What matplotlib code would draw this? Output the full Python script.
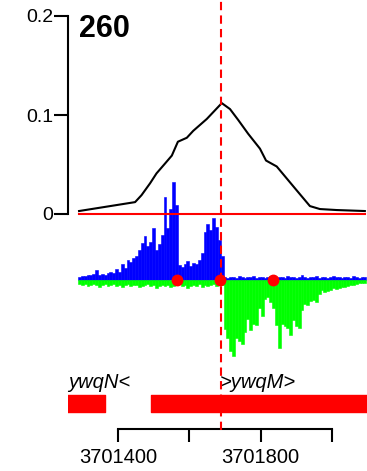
import matplotlib
matplotlib.use("Agg")
import matplotlib.pyplot as plt
import numpy as np

plt.rcParams["font.family"] = ["Liberation Sans", "DejaVu Sans"]

# genomic window
x_lo, x_hi = 3701260, 3702098
summit = 3701690

# smoothed density (top panel)
dens_pos = [3701291, 3701448, 3701466, 3701490, 3701508, 3701532, 3701551,
            3701568, 3701593, 3701611, 3701649, 3701691, 3701714, 3701737,
            3701765, 3701798, 3701815, 3701845, 3701896, 3701938, 3701966,
            3702013, 3702092]
dens_val = [0.003, 0.012, 0.019, 0.031, 0.041, 0.051, 0.059, 0.073, 0.077,
            0.084, 0.096, 0.112, 0.106, 0.095, 0.081, 0.066, 0.054, 0.048,
            0.026, 0.008, 0.005, 0.004, 0.003]

# per-position read counts, forward (blue, up) and reverse (green, down)
sig_start, sig_step = 3701292, 8
fwd = [3, 4, 4, 5, 5, 6, 10, 5, 6, 5, 7, 8, 7, 11, 8, 16, 12, 20, 18, 22,
       24, 30, 37, 44, 34, 38, 52, 30, 36, 45, 83, 52, 71, 98, 75, 15, 13, 16, 19, 14,
       17, 16, 20, 27, 48, 56, 50, 62, 53, 40, 24,
       3, 2, 3, 3, 2, 4, 3, 2, 3, 3, 4, 2, 3, 3, 2, 3, 4, 3, 2, 3,
       3, 2, 4, 3, 3, 2, 3, 5, 3, 2, 3, 3, 4, 2, 3, 3, 2, 3, 4, 3,
       3, 2, 3, 3, 2, 4, 3, 2, 3, 3]
rev = [4, 5, 4, 6, 5, 4, 5, 7, 5, 4, 6, 5, 4, 6, 5, 7, 5, 4, 6, 5,
       5, 7, 6, 5, 4, 6, 5, 8, 6, 5, 6, 5, 7, 6, 5, 4, 6, 5, 8, 6,
       5, 6, 4, 7, 5, 6, 5, 4, 6, 5, 5,
       49, 58, 71, 76, 58, 61, 64, 52, 39, 50, 44, 45, 28, 36, 19, 17, 22, 28, 45, 68,
       44, 46, 48, 55, 40, 46, 48, 30, 24, 25, 21, 20, 22, 14, 10, 12, 11, 10, 8, 9,
       8, 7, 7, 6, 5, 5, 4, 3, 3, 3]

# motif / site hits
sites = [3701566, 3701687, 3701834]

# genes
gene_names = ["ywqN<", ">ywqM>"]
gene_start = [3700900, 3701494]
gene_end = [3701364, 3702500]
gene_label_x = [3701260, 3701686]

ticks = [3701400, 3701600, 3701800, 3702000]
tick_labels = ["3701400", "", "3701800", ""]

peak_id = "260"

W, H = 367, 471


def box(x0, y_top, x1, y_bot):
    return [x0 / W, 1 - y_bot / H, (x1 - x0) / W, (y_bot - y_top) / H]


fig = plt.figure(figsize=(W / 100, H / 100), dpi=100)

# signal panel
ax_sig = fig.add_axes(box(68, 180, 367, 360))
pos = sig_start + sig_step * np.arange(len(fwd))
ax_sig.bar(pos, fwd, width=sig_step, color="#0000ff", linewidth=0.4, edgecolor="#0000ff")
ax_sig.bar(pos, -np.array(rev), width=sig_step, color="#00ff00", linewidth=0.4, edgecolor="#00ff00")
ax_sig.plot(sites, [0] * len(sites), "o", color="#ff0000", markersize=7.5, zorder=5)
ax_sig.set_xlim(x_lo, x_hi)
ax_sig.set_ylim(-80, 100)
ax_sig.axis("off")

# density panel
ax_d = fig.add_axes(box(68, 16, 367, 214), zorder=3)
ax_d.patch.set_visible(False)
ax_d.plot(dens_pos, dens_val, color="black", lw=1.5, clip_on=False)
ax_d.plot([dens_pos[0], dens_pos[-1]], [0, 0], color="#ff0000", lw=1.5, clip_on=False)
ax_d.set_xlim(x_lo, x_hi)
ax_d.set_ylim(0, 0.2)
for s in ["top", "right", "bottom"]:
    ax_d.spines[s].set_visible(False)
ax_d.spines["left"].set_linewidth(1.5)
ax_d.set_xticks([])
ax_d.set_yticks([0, 0.1, 0.2])
ax_d.set_yticklabels(["0", "0.1", "0.2"])
ax_d.tick_params(axis="y", length=10, width=1.5, pad=0.5, labelsize=14)
ax_d.text(0.037, 0.934, peak_id, transform=ax_d.transAxes, fontsize=22,
          fontweight="bold", ha="left", va="center")

# gene panel
ax_g = fig.add_axes(box(68, 370, 367, 415))
for s, e in zip(gene_start, gene_end):
    ax_g.broken_barh([(s, e - s)], (0.067, 0.377), color="#ff0000")
for name, lx in zip(gene_names, gene_label_x):
    ax_g.text(lx, 0.733, name, fontsize=14.5, style="italic", ha="left", va="center")
ax_g.set_xlim(x_lo, x_hi)
ax_g.set_ylim(0, 1)
ax_g.axis("off")

# coordinate axis
ax_b = fig.add_axes(box(68, 419, 367, 429))
ax_b.patch.set_visible(False)
for s in ["top", "right", "left"]:
    ax_b.spines[s].set_visible(False)
ax_b.spines["bottom"].set_linewidth(1.5)
ax_b.spines["bottom"].set_bounds(ticks[0], ticks[-1])
ax_b.set_xlim(x_lo, x_hi)
ax_b.set_yticks([])
ax_b.set_xticks(ticks)
ax_b.set_xticklabels(tick_labels)
ax_b.tick_params(axis="x", length=9.5, width=1.5, pad=4, labelsize=14.5)

# summit line over everything
ax_o = fig.add_axes([68 / W, 0, 299 / W, 1], zorder=4)
ax_o.patch.set_visible(False)
ax_o.axis("off")
ax_o.set_xlim(x_lo, x_hi)
ax_o.set_ylim(0, 1)
ax_o.axvline(summit, ymin=1 - 430 / H, ymax=1, color="#ff0000", lw=1.5,
             linestyle=(0, (4, 2.5)))

fig.savefig("out.png", dpi=100)
